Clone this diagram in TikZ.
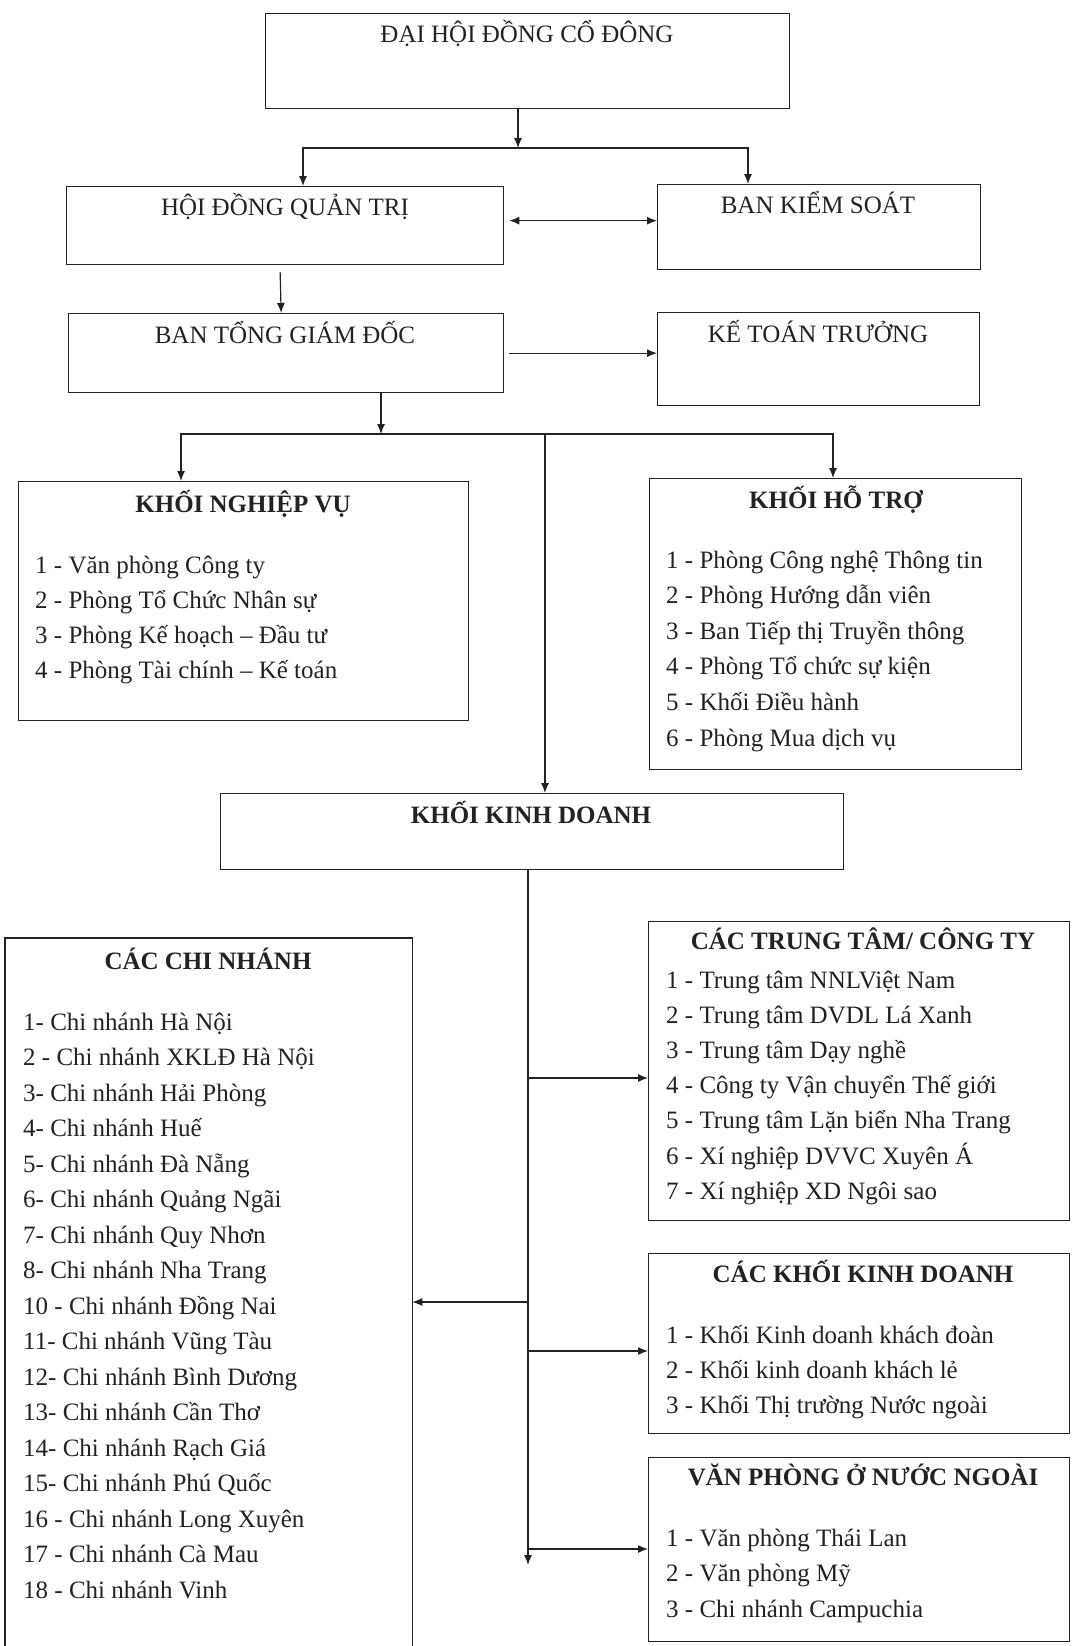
\documentclass[tikz,border=0pt]{standalone}
\usepackage{fontspec}
\setmainfont{Liberation Serif}
\usetikzlibrary{arrows.meta}
\definecolor{ink}{HTML}{222222}
\begin{document}
\begin{tikzpicture}[x=1pt,y=-1pt,
  box/.style={draw=ink, line width=1.3pt, inner sep=0pt, anchor=north west},
  ttl/.style={inner sep=0pt, text height=17pt, text depth=5pt, text=ink, font=\fontsize{25}{30}\selectfont},
  bttl/.style={ttl, font=\fontsize{25}{30}\selectfont\bfseries},
  item/.style={anchor=west, inner sep=0pt, text height=17pt, text depth=5pt, text=ink, font=\fontsize{25}{30}\selectfont},
  conn/.style={draw=ink, line width=1.2pt},
  arr/.style={conn, -{Latex[length=10pt,width=8pt]}},
  arrb/.style={conn, {Latex[length=10pt,width=8pt]}-{Latex[length=10pt,width=8pt]}}]
\useasboundingbox (0,0) rectangle (1071,1646);
\fill[white] (0,0) rectangle (1071,1646);

% boxes
\node[box, minimum width=524, minimum height=95] (dh) at (265,13) {};
\node[box, minimum width=437, minimum height=78] (hq) at (66,186) {};
\node[box, minimum width=323, minimum height=85] (bks) at (657,184) {};
\node[box, minimum width=435, minimum height=79] (bt) at (68,313) {};
\node[box, minimum width=322, minimum height=93] (ktt) at (657,312) {};
\node[box, minimum width=450, minimum height=239] (knv) at (18,481) {};
\node[box, minimum width=372, minimum height=291] (kht) at (649,478) {};
\node[box, minimum width=623, minimum height=76] (kkd) at (220,793) {};
\node[box, draw=none, minimum width=406, minimum height=708] (ccn) at (5,938) {};
\draw[ink, line width=1.3pt] (ccn.south west) -- (ccn.north west) -- (ccn.north east) -- (ccn.south east);
\node[box, minimum width=421, minimum height=299] (ctt) at (648,921) {};
\node[box, minimum width=421, minimum height=180] (ckkd) at (648,1253) {};
\node[box, minimum width=421, minimum height=184] (vpnn) at (648,1457) {};

% titles
\node[ttl] (tdh) at (527,37) {ĐẠI HỘI ĐỒNG CỔ ĐÔNG};
\node[ttl] (thq) at (285,209) {HỘI ĐỒNG QUẢN TRỊ};
\node[ttl] (tbks) at (818,207) {BAN KIỂM SOÁT};
\node[ttl] (tbt) at (285,337) {BAN TỔNG GIÁM ĐỐC};
\node[ttl] (tktt) at (818,336) {KẾ TOÁN TRƯỞNG};
\node[bttl] (tknv) at (243,506) {KHỐI NGHIỆP VỤ};
\node[bttl] (tkht) at (836,502) {KHỐI HỖ TRỢ};
\node[bttl] (tkkd) at (531,817) {KHỐI KINH DOANH};
\node[bttl] (tccn) at (208,963) {CÁC CHI NHÁNH};
\node[bttl] (tctt) at (863,943) {CÁC TRUNG TÂM/ CÔNG TY};
\node[bttl] (tckkd) at (863,1276) {CÁC KHỐI KINH DOANH};
\node[bttl] (tvpnn) at (863,1479) {VĂN PHÒNG Ở NƯỚC NGOÀI};

% lists
\foreach \t [count=\i] in {1 - Văn phòng Công ty, 2 - Phòng Tổ Chức Nhân sự, 3 - Phòng Kế hoạch – Đầu tư, 4 - Phòng Tài chính – Kế toán}
  \node[item] (knv\i) at ({35},{567+(\i-1)*35}) {\t};
\foreach \t [count=\i] in {1 - Phòng Công nghệ Thông tin, 2 - Phòng Hướng dẫn viên, 3 - Ban Tiếp thị Truyền thông, 4 - Phòng Tổ chức sự kiện, 5 - Khối Điều hành, 6 - Phòng Mua dịch vụ}
  \node[item] (kht\i) at ({666},{562+(\i-1)*35.6}) {\t};
\foreach \t [count=\i] in {1- Chi nhánh Hà Nội, 2 - Chi nhánh XKLĐ Hà Nội, 3- Chi nhánh Hải Phòng, 4- Chi nhánh Huế, 5- Chi nhánh Đà Nẵng, 6- Chi nhánh Quảng Ngãi, 7- Chi nhánh Quy Nhơn, 8- Chi nhánh Nha Trang, 10 - Chi nhánh Đồng Nai, 11- Chi nhánh Vũng Tàu, 12- Chi nhánh Bình Dương, 13- Chi nhánh Cần Thơ, 14- Chi nhánh Rạch Giá, 15- Chi nhánh Phú Quốc, 16 - Chi nhánh Long Xuyên, 17 - Chi nhánh Cà Mau, 18 - Chi nhánh Vinh}
  \node[item] (ccn\i) at ({23},{1024+(\i-1)*35.5}) {\t};
\foreach \t [count=\i] in {1 - Trung tâm NNLViệt Nam, 2 - Trung tâm DVDL Lá Xanh, 3 - Trung tâm Dạy nghề, 4 - Công ty Vận chuyển Thế giới, 5 - Trung tâm Lặn biển Nha Trang, 6 - Xí nghiệp DVVC Xuyên Á, 7 - Xí nghiệp XD Ngôi sao}
  \node[item] (ctt\i) at ({666},{982+(\i-1)*35.2}) {\t};
\foreach \t [count=\i] in {1 - Khối Kinh doanh khách đoàn, 2 - Khối kinh doanh khách lẻ, 3 - Khối Thị trường Nước ngoài}
  \node[item] (ckkd\i) at ({666},{1337+(\i-1)*35}) {\t};
\foreach \t [count=\i] in {1 - Văn phòng Thái Lan, 2 - Văn phòng Mỹ, 3 - Chi nhánh Campuchia}
  \node[item] (vpnn\i) at ({666},{1540+(\i-1)*35.5}) {\t};

% connectors
\coordinate (j1) at (518,148);
\coordinate (j1l) at (303,148);
\coordinate (j1r) at (748,148);
\draw[arr] (dh.south -| j1) -- (j1);
\draw[arr] (j1) -- (j1l) -- (j1l |- hq.north);
\draw[arr] (j1) -- (j1r) -- (j1r |- bks.north);
\draw[arrb] ([xshift=5pt,yshift=5pt]hq.east) -- ([yshift=5pt]hq.east -| bks.west);
\draw[arr] ([xshift=-5pt,yshift=-7pt]hq.south) -- ([xshift=-5pt]bt.north);
\draw[arr] ([xshift=5pt]bt.east) -- (bt.east -| ktt.west);

\coordinate (j2) at (381,434);
\coordinate (j2l) at (181,434);
\coordinate (j2r) at (833,434);
\coordinate (j2m) at (545,434);
\draw[arr] (bt.south -| j2) -- (j2);
\draw[arr] (j2) -- (j2l) -- (j2l |- knv.north);
\draw[arr] (j2) -- (j2r) -- (j2r |- kht.north);
\draw[arr] (j2m) -- (j2m |- kkd.north);

\coordinate (tr) at (528,1565);
\coordinate (b1) at (528,1078);
\coordinate (b2) at (528,1302);
\coordinate (b3) at (528,1351);
\coordinate (b4) at (528,1549);
\draw[arr] (kkd.south -| tr) -- (tr);
\draw[arr] (b1) -- (b1 -| ctt.west);
\draw[arr] (b2) -- (b2 -| ccn.east);
\draw[arr] (b3) -- (b3 -| ckkd.west);
\draw[arr] (b4) -- (b4 -| vpnn.west);
\end{tikzpicture}
\end{document}
